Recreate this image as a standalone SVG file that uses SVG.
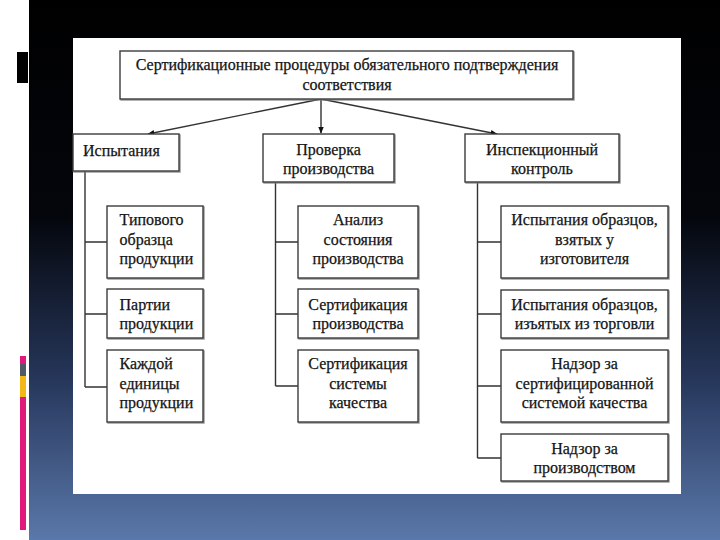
<svg xmlns="http://www.w3.org/2000/svg" width="720" height="540" viewBox="0 0 720 540">
<defs>
<linearGradient id="bg" x1="0" y1="0" x2="0" y2="1">
<stop offset="0" stop-color="#000000"/>
<stop offset="0.4" stop-color="#04060c"/>
<stop offset="0.7" stop-color="#26365a"/>
<stop offset="1" stop-color="#5a78aa"/>
</linearGradient>
<marker id="ah" viewBox="0 0 10 10" refX="9" refY="5" markerWidth="7" markerHeight="7" orient="auto" markerUnits="userSpaceOnUse">
<path d="M0,1 L10,5 L0,9 z" fill="#111"/>
</marker>
<filter id="sh" x="-5%" y="-5%" width="115%" height="120%">
<feDropShadow dx="1" dy="1" stdDeviation="0.6" flood-color="#777" flood-opacity="0.8"/>
</filter>
</defs>
<style>
.box{fill:#fff;stroke:#3a3a3a;stroke-width:1.4;filter:url(#sh)}
.ln{stroke:#333;stroke-width:1.4;fill:none}
.ar{stroke:#333;stroke-width:1.4;fill:none;marker-end:url(#ah)}
.c{text-anchor:middle}
</style>
<rect x="0" y="0" width="720" height="540" fill="#fff"/>
<rect x="29" y="0" width="691" height="540" fill="url(#bg)"/>
<rect x="17" y="52" width="11" height="31" fill="#000"/>
<rect x="20" y="356" width="6" height="8" fill="#e0197a"/>
<rect x="20" y="364" width="6" height="12" fill="#505a66"/>
<rect x="20" y="376" width="6" height="21" fill="#f2b81a"/>
<rect x="20" y="397" width="6" height="133" fill="#e0197a"/>
<rect x="73" y="38" width="608" height="456" fill="#fff"/>

<g id="connectors">
<path class="ar" d="M321,99 L148,134"/>
<path class="ar" d="M321,99 L321,133"/>
<path class="ar" d="M321,99 L497,134"/>
<path class="ln" d="M85,171 V387 M85,242 H107 M85,314 H107 M85,387 H107"/>
<path class="ln" d="M275.5,182 V386 M275.5,242 H298 M275.5,314 H298 M275.5,386 H298"/>
<path class="ln" d="M477.5,182 V458 M477.5,242 H501 M477.5,314 H501 M477.5,386 H501 M477.5,458 H501"/>
</g>

<g font-family="Liberation Serif" font-size="16" fill="#151515" stroke="#151515" stroke-width="0.25">
<g id="root">
<rect class="box" x="120" y="51" width="453" height="48"/>
<text class="c" x="347" y="70">Сертификационные процедуры обязательного подтверждения</text>
<text class="c" x="347" y="90">соответствия</text>
</g>

<g id="ispytaniya">
<rect class="box" x="73" y="134" width="106" height="37"/>
<text x="83" y="156">Испытания</text>
</g>
<g id="proverka">
<rect class="box" x="263" y="134" width="131" height="48"/>
<text class="c" x="328.5" y="155">Проверка</text>
<text class="c" x="328.5" y="174">производства</text>
</g>
<g id="inspekcionny">
<rect class="box" x="465" y="134" width="154" height="48"/>
<text class="c" x="542" y="155">Инспекционный</text>
<text class="c" x="542" y="174">контроль</text>
</g>

<g id="tipovogo">
<rect class="box" x="107" y="206" width="96" height="72"/>
<text x="119.5" y="225">Типового</text>
<text x="119.5" y="245">образца</text>
<text x="119.5" y="264">продукции</text>
</g>
<g id="partii">
<rect class="box" x="107" y="289" width="96" height="49"/>
<text x="119.5" y="310">Партии</text>
<text x="119.5" y="329">продукции</text>
</g>
<g id="kazhdoy">
<rect class="box" x="107" y="350" width="96" height="72"/>
<text x="119.5" y="369">Каждой</text>
<text x="119.5" y="389">единицы</text>
<text x="119.5" y="408">продукции</text>
</g>

<g id="analiz">
<rect class="box" x="298" y="206" width="120" height="72"/>
<text class="c" x="358" y="225">Анализ</text>
<text class="c" x="358" y="245">состояния</text>
<text class="c" x="358" y="264">производства</text>
</g>
<g id="sert-proizv">
<rect class="box" x="298" y="289" width="120" height="49"/>
<text class="c" x="358" y="310">Сертификация</text>
<text class="c" x="358" y="329">производства</text>
</g>
<g id="sert-sist">
<rect class="box" x="298" y="350" width="120" height="72"/>
<text class="c" x="358" y="369">Сертификация</text>
<text class="c" x="358" y="389">системы</text>
<text class="c" x="358" y="408">качества</text>
</g>

<g id="obr-vzyatyh">
<rect class="box" x="501" y="206" width="167" height="72"/>
<text class="c" x="584.5" y="225">Испытания образцов,</text>
<text class="c" x="584.5" y="245">взятых у</text>
<text class="c" x="584.5" y="264">изготовителя</text>
</g>
<g id="obr-izyatyh">
<rect class="box" x="501" y="290" width="167" height="48"/>
<text class="c" x="584.5" y="310">Испытания образцов,</text>
<text class="c" x="584.5" y="329">изъятых из торговли</text>
</g>
<g id="nadzor-sist">
<rect class="box" x="501" y="350" width="167" height="72"/>
<text class="c" x="584.5" y="369">Надзор за</text>
<text class="c" x="584.5" y="389">сертифицированной</text>
<text class="c" x="584.5" y="408">системой качества</text>
</g>
<g id="nadzor-proizv">
<rect class="box" x="501" y="434" width="167" height="47"/>
<text class="c" x="584.5" y="454">Надзор  за</text>
<text class="c" x="584.5" y="473">производством</text>
</g>
</g>
</svg>
